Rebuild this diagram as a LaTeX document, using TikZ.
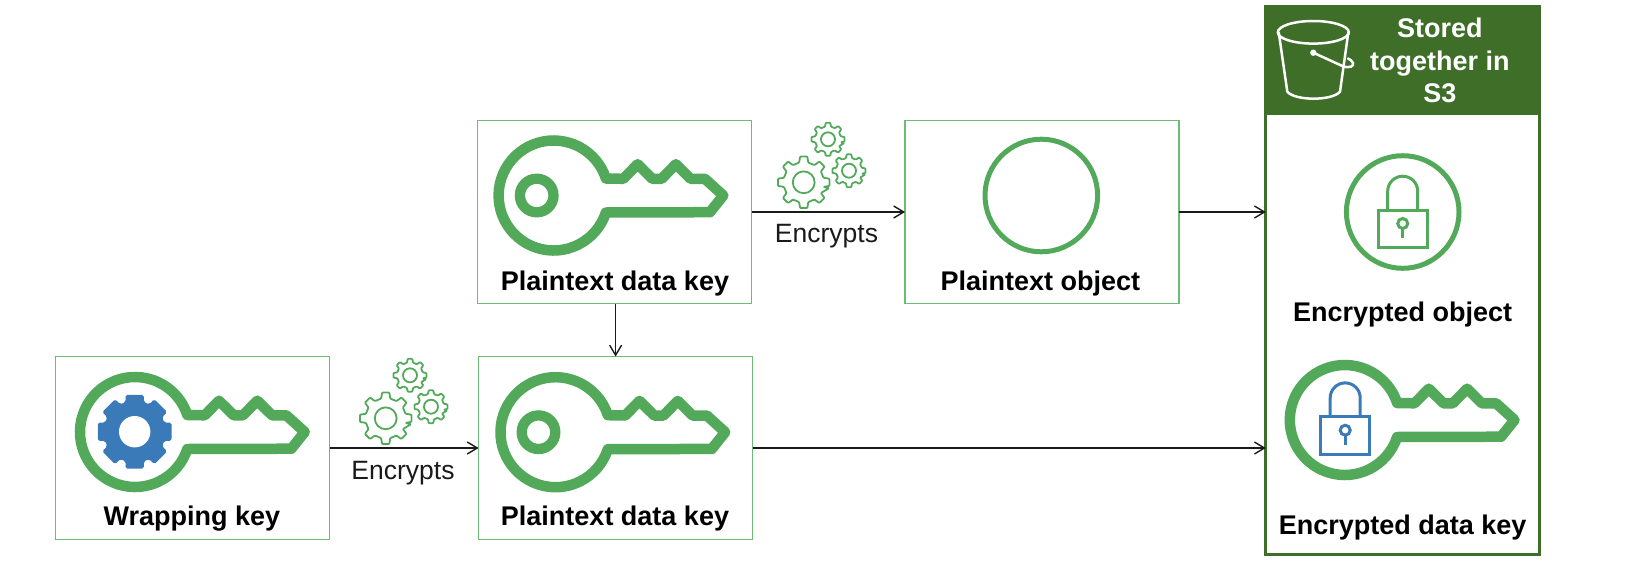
\documentclass[tikz,border=0pt]{standalone}
\usepackage{fontspec}
\setmainfont{Liberation Sans}
\usetikzlibrary{arrows.meta}
\definecolor{keygreen}{HTML}{52A95A}
\definecolor{boxgreen}{HTML}{6DBB75}
\definecolor{darkgreen}{HTML}{3E6E27}
\definecolor{lockblue}{HTML}{3A7AB8}
\definecolor{arrowblack}{HTML}{1A1A1A}
\tikzset{
  panel/.style={draw=boxgreen,line width=1.6pt,fill=white,inner sep=0pt,outer sep=0pt,minimum width=274pt,minimum height=183pt},
  title/.style={anchor=base,font=\fontsize{27}{32}\selectfont\bfseries,text=black,inner sep=0pt},
  verb/.style={anchor=base,font=\fontsize{26.5}{32}\selectfont,text=arrowblack,inner sep=0pt},
  flow/.style={draw=arrowblack,line width=1.5pt,-{Straight Barb[length=10pt,width=12pt,line width=1.4pt]}},
  keyshape/.pic={
    \begin{scope}[yscale=-1]
    \draw[keygreen,line width=10.5pt,line join=round]
      (18:55) arc[start angle=18,end angle=342,radius=55]
      -- (69.7,-16.7) -- (84,-31.3) -- (98.7,-16.7) -- (108,-16.7) -- (122.3,-31.3)
      -- (137,-16.7) -- (151.3,-16.7) -- (169.7,0) -- (156.3,16.7) -- cycle;
    \end{scope}
  },
  gearshape/.pic={
    \draw[keygreen,line width=1.8pt,line join=round,rounded corners=0.8pt]
      (-13:#1) \foreach \a in {0,45,...,315}{
        -- ({\a-13}:{0.78*#1}) -- ({\a-8}:#1) -- ({\a+8}:#1) -- ({\a+13}:{0.78*#1})
      } -- cycle;
    \draw[keygreen,line width=1.8pt] (0,0) circle[radius={0.42*#1}];
  },
  lockshape/.pic={
    \begin{scope}[yscale=-1]
    \draw[#1,line width=3pt,line join=miter] (-24.5,0) rectangle (24.5,37.5);
    \draw[#1,line width=3pt] (-15,0) -- (-15,-18.8) arc[start angle=180,end angle=360,radius=15] -- (15,0);
    \draw[#1,line width=3pt] (0,13.5) circle[radius=5];
    \draw[#1,line width=3pt] (0,18.5) -- (0,28);
    \end{scope}
  },
  bluegear/.pic={
    \fill[lockblue,rounded corners=1.8pt] (-14:38)
      \foreach \a in {0,45,...,315}{
        -- ({\a-14}:38) -- ({\a+14}:38) -- ({\a+17}:31) -- ({\a+28}:31)
      } -- cycle;
    \fill[white] (0,0) circle[radius=15.7];
  },
}
\begin{document}
\begin{tikzpicture}[x=1pt,y=1pt,yscale=-1]
\useasboundingbox (0,0) rectangle (1640,560);

% boxes
\node[panel] (wrap) at (192.5,448) {};
\node[panel] (pk1) at (614.5,212) {};
\node[panel] (pk2) at (615.6,448) {};
\node[panel] (obj) at (1042,212) {};
\node[draw=darkgreen,line width=3pt,fill=white,inner sep=0pt,outer sep=0pt,minimum width=274pt,minimum height=548pt] (s3) at (1402.8,280.5) {};
\node[fill=darkgreen,inner sep=0pt,outer sep=0pt,minimum width=277pt,minimum height=110pt] (s3head) at (1402.8,60) {};

% bucket
\draw[white,line width=2.5pt] (1313.3,32.3) ellipse[x radius=35.5,y radius=11.3];
\draw[white,line width=2.5pt,line join=round] (1278.7,32.3) -- (1287.3,91.7) .. controls (1295,101) and (1332,101) .. (1340,91.7) -- (1348.3,32.3);
\fill[white] (1313.3,52.7) circle[radius=3.2];
\draw[white,line width=2.5pt,line cap=round] (1313.3,52.7) -- (1343,66.3) .. controls (1350,68.5) and (1354,66) .. (1353,63) .. controls (1352.5,61) and (1350,59.5) .. (1348,58.5);
\node[font=\fontsize{27}{32.5}\selectfont\bfseries,text=white,align=center,inner sep=0pt] (s3title) at (1439.8,60.5) {Stored\\together in\\S3};

% keys
\pic at (135,432) {keyshape};
\pic at (553.6,195.5) {keyshape};
\pic at (555.5,432.2) {keyshape};
\pic at (1344.8,420) {keyshape};

% key centres
\pic at (134.7,431.7) {bluegear};
\draw[keygreen,line width=10.3pt] (536.7,195.5) circle[radius=16.8];
\draw[keygreen,line width=10.3pt] (538.5,432.2) circle[radius=16.8];

% object circles and locks
\draw[keygreen,line width=5pt] (1041.3,195.5) circle[radius=56.3];
\draw[keygreen,line width=5pt] (1402.7,212) circle[radius=56.3];
\pic at (1402.7,210) {lockshape=keygreen};
\pic at (1345.2,416.7) {lockshape=lockblue};

% gears
\pic at (385.7,418.3) {gearshape=26};
\pic at (410,375.3) {gearshape=16.7};
\pic at (431,406.7) {gearshape=16.7};
\pic at (803.7,182.3) {gearshape=26};
\pic at (828,139.3) {gearshape=16.7};
\pic at (849,170.7) {gearshape=16.7};

% labels
\node[title] (lwrap) at (192,525) {Wrapping key};
\node[title] (lpk1) at (615,290) {Plaintext data key};
\node[title] (lpk2) at (615,525) {Plaintext data key};
\node[title] (lobj) at (1040.3,290.8) {Plaintext object};
\node[title] (lenco) at (1402.7,321.5) {Encrypted object};
\node[title] (lenck) at (1402.7,534) {Encrypted data key};
\node[verb] (v1) at (403,479.5) {Encrypts};
\node[verb] (v2) at (826.5,242.8) {Encrypts};

% connectors
\draw[flow] (wrap.east) -- (pk2.west);
\draw[flow] (pk1.east) -- (obj.west);
\draw[flow] (pk1.south -| pk2.north) -- (pk2.north);
\draw[flow] (obj.east) -- (obj.east -| s3.west);
\draw[flow] (pk2.east) -- (pk2.east -| s3.west);
\end{tikzpicture}
\end{document}
